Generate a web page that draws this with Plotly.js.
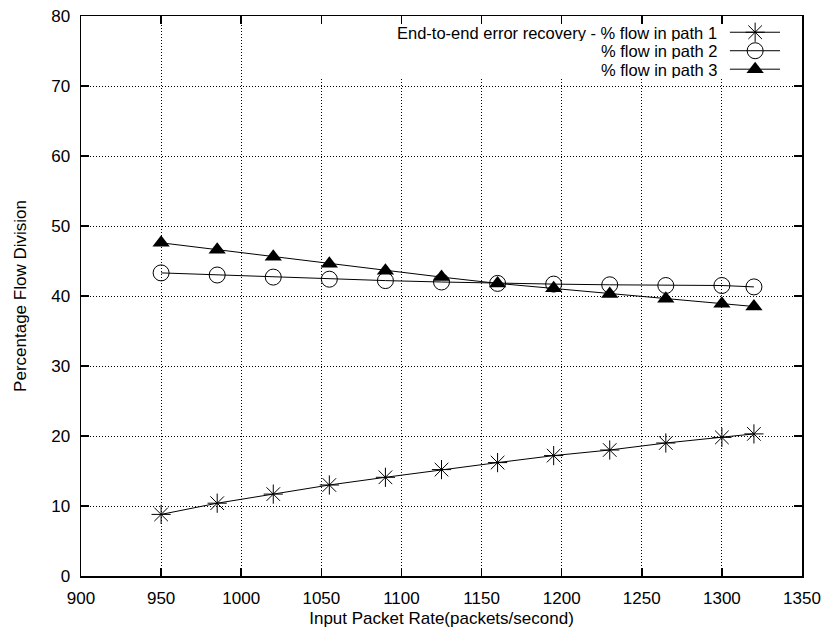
<!DOCTYPE html>
<html>
<head>
<meta charset="utf-8">
<script src="https://cdn.plot.ly/plotly-3.0.1.min.js"></script>
<style>html,body{margin:0;padding:0;background:#fff;}#chart{width:824px;height:633px;}</style>
</head>
<body>
<div id="chart"></div>
<script>
const inputRate = [950, 985, 1020, 1055, 1090, 1125, 1160, 1195, 1230, 1265, 1300, 1320];
const path1 = [8.8, 10.4, 11.7, 13.0, 14.1, 15.2, 16.2, 17.2, 18.0, 19.0, 19.8, 20.3];
const path2 = [43.3, 43.0, 42.7, 42.4, 42.2, 42.0, 41.8, 41.7, 41.6, 41.5, 41.5, 41.3];
const path3 = [47.6, 46.6, 45.6, 44.6, 43.6, 42.7, 41.8, 41.1, 40.3, 39.6, 38.9, 38.5];
const seriesNames = ["End-to-end error recovery - % flow in path 1", "% flow in path 2", "% flow in path 3"];
const xTicks = [900, 950, 1000, 1050, 1100, 1150, 1200, 1250, 1300, 1350];
const yTicks = [0, 10, 20, 30, 40, 50, 60, 70, 80];

const FONT = "Liberation Sans, Arial, Helvetica, sans-serif";
const markers = [
  {symbol: "asterisk-open", size: 16, color: "#000", line: {color: "#000", width: 1}},
  {symbol: "circle-open", size: 16, color: "#000", line: {color: "#000", width: 1}},
  {symbol: "triangle-up", size: 15, color: "#000", line: {color: "#000", width: 0}}
];
const seriesY = [path1, path2, path3];

const traces = [];
seriesY.forEach((ys, i) => {
  traces.push({
    x: inputRate, y: ys, type: "scatter", mode: "lines+markers",
    name: seriesNames[i], showlegend: false,
    line: {color: "#000", width: 1},
    marker: markers[i], cliponaxis: false
  });
});

// legend samples on an overlay axis (0..1 of plot area)
const legRowY = [0.971, 0.938, 0.905];
const legX0 = 0.900, legX1 = 0.9695, legXm = 0.935;
seriesY.forEach((ys, i) => {
  traces.push({
    x: [legX0, legX1], y: [legRowY[i], legRowY[i]], xaxis: "x2", yaxis: "y2",
    type: "scatter", mode: "lines", showlegend: false, hoverinfo: "skip",
    line: {color: "#000", width: 1}
  });
  traces.push({
    x: [legXm], y: [legRowY[i]], xaxis: "x2", yaxis: "y2",
    type: "scatter", mode: "markers", showlegend: false, hoverinfo: "skip",
    marker: markers[i], cliponaxis: false
  });
});

const annotations = seriesNames.map((t, i) => ({
  text: t, xref: "paper", yref: "paper", x: 0.8835, y: legRowY[i],
  xanchor: "right", yanchor: "middle", showarrow: false,
  borderpad: 0, height: 17,
  font: {family: FONT, size: 16.5, color: "#000"}
}));

const axisCommon = {
  showline: true, linecolor: "#000", linewidth: 1.5, mirror: "ticks",
  ticks: "inside", ticklen: 8, tickwidth: 1.5, tickcolor: "#000",
  showgrid: true, gridcolor: "#000", gridwidth: 1, griddash: "1px,2px",
  zeroline: false, tickfont: {family: FONT, size: 17, color: "#000"},
  ticklabelstandoff: 6
};

const layout = {
  width: 824, height: 633,
  margin: {l: 81, r: 22, t: 16, b: 57},
  paper_bgcolor: "#fff", plot_bgcolor: "#fff",
  font: {family: FONT, color: "#000"},
  showlegend: false,
  xaxis: Object.assign({}, axisCommon, {
    range: [900, 1350], tickvals: xTicks, ticktext: xTicks.map(String),
    title: {text: "Input Packet Rate(packets/second)", font: {family: FONT, size: 17, color: "#000"}, standoff: 5}
  }),
  yaxis: Object.assign({}, axisCommon, {
    range: [0, 80], tickvals: yTicks, ticktext: yTicks.map(String),
    title: {text: "Percentage Flow Division", font: {family: FONT, size: 17, color: "#000"}, standoff: 20}
  }),
  xaxis2: {overlaying: "x", range: [0, 1], visible: false, fixedrange: true},
  yaxis2: {overlaying: "y", range: [0, 1], visible: false, fixedrange: true},
  shapes: [{
    type: "rect", xref: "x", yref: "y", x0: 1020, x1: 1350, y0: 71.3, y1: 80,
    fillcolor: "#fff", line: {width: 0}, layer: "between"
  }],
  annotations: annotations
};

Plotly.newPlot("chart", traces, layout, {displayModeBar: false, staticPlot: true});
</script>
</body>
</html>
